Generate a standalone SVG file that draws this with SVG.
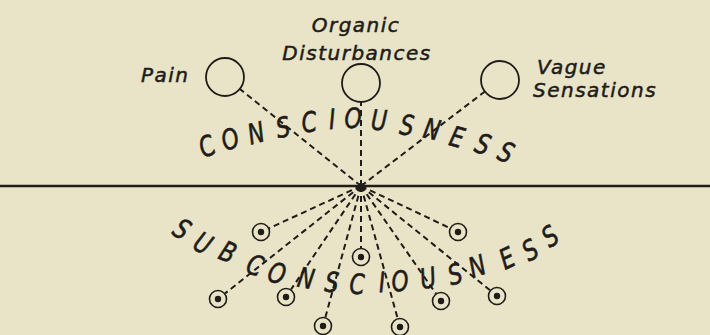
<svg xmlns="http://www.w3.org/2000/svg" width="710" height="335" viewBox="0 0 710 335">
<style>
.lbl{font-family:"DejaVu Sans",sans-serif;font-style:italic;font-size:20px;letter-spacing:1.5px;fill:#201c18;stroke:#201c18;stroke-width:0.5}
.big{font-family:"DejaVu Sans",sans-serif;font-style:italic;font-size:28px;fill:#201c18;stroke:#201c18;stroke-width:0.6;text-anchor:middle}
.ring{fill:none;stroke:#201c18;stroke-width:1.8}
.dash{stroke:#201c18;stroke-width:2;stroke-dasharray:6 4;fill:none}
.bo{fill:none;stroke:#201c18;stroke-width:1.6}
.bi{fill:#201c18}
</style>
<rect width="710" height="335" fill="#e9e3c7"/>
<line x1="0" y1="186" x2="710" y2="186" stroke="#201c18" stroke-width="2.5"/>
<g id="connectors">
<line class="dash" x1="361" y1="186" x2="239.8" y2="88.9"/>
<line class="dash" x1="361" y1="186" x2="361" y2="102"/>
<line class="dash" x1="361" y1="186" x2="484.9" y2="91.5"/>
<line class="dash" x1="361" y1="186" x2="269.2" y2="228.2"/>
<line class="dash" x1="361" y1="186" x2="225.1" y2="293.4"/>
<line class="dash" x1="361" y1="186" x2="291" y2="289.5"/>
<line class="dash" x1="361" y1="186" x2="325.4" y2="317.3"/>
<line class="dash" x1="361" y1="186" x2="361" y2="248"/>
<line class="dash" x1="361" y1="186" x2="397.6" y2="318.3"/>
<line class="dash" x1="361" y1="186" x2="435.9" y2="293.6"/>
<line class="dash" x1="361" y1="186" x2="449.9" y2="228.1"/>
<line class="dash" x1="361" y1="186" x2="490" y2="290.3"/>
<circle cx="361" cy="186" r="3" fill="#201c18"/>
</g>
<g id="pain">
<circle class="ring" cx="225" cy="77" r="19"/>
<text class="lbl" x="141" y="82">Pain</text>
</g>
<g id="organic">
<circle class="ring" cx="361" cy="83" r="19"/>
<text class="lbl" x="356" y="32" text-anchor="middle">Organic</text>
<text class="lbl" x="357" y="60" text-anchor="middle">Disturbances</text>
</g>
<g id="vague">
<circle class="ring" cx="500" cy="80" r="19"/>
<text class="lbl" x="537" y="74">Vague</text>
<text class="lbl" x="533" y="97">Sensations</text>
</g>
<g id="consciousness">
<text class="big" dy="10" transform="translate(207,146) rotate(-22.9) scale(0.78,1)">C</text>
<text class="big" dy="10" transform="translate(230,139) rotate(-19.2) scale(0.78,1)">O</text>
<text class="big" dy="10" transform="translate(256,133) rotate(-15.1) scale(0.78,1)">N</text>
<text class="big" dy="10" transform="translate(283,127) rotate(-10.9) scale(0.78,1)">S</text>
<text class="big" dy="10" transform="translate(309,122) rotate(-7) scale(0.78,1)">C</text>
<text class="big" dy="10" transform="translate(332,119) rotate(-3.5) scale(0.78,1)">I</text>
<text class="big" dy="10" transform="translate(353,118) rotate(-0.3) scale(0.78,1)">O</text>
<text class="big" dy="10" transform="translate(379,120) rotate(3.6) scale(0.78,1)">U</text>
<text class="big" dy="10" transform="translate(407,125) rotate(7.9) scale(0.78,1)">S</text>
<text class="big" dy="10" transform="translate(432,129) rotate(11.7) scale(0.78,1)">N</text>
<text class="big" dy="10" transform="translate(457,137) rotate(15.6) scale(0.78,1)">E</text>
<text class="big" dy="10" transform="translate(483,144) rotate(19.7) scale(0.78,1)">S</text>
<text class="big" dy="10" transform="translate(506,152) rotate(23.4) scale(0.78,1)">S</text>
</g>
<g id="subconsciousness">
<text class="big" dy="10" transform="translate(182,229) rotate(33.1) scale(0.78,1)">S</text>
<text class="big" dy="10" transform="translate(203,243) rotate(28.9) scale(0.78,1)">U</text>
<text class="big" dy="10" transform="translate(228,252) rotate(24.1) scale(0.78,1)">B</text>
<text class="big" dy="10" transform="translate(255,265) rotate(19.2) scale(0.78,1)">C</text>
<text class="big" dy="10" transform="translate(277,273) rotate(15.2) scale(0.78,1)">O</text>
<text class="big" dy="10" transform="translate(306,278) rotate(10.1) scale(0.78,1)">N</text>
<text class="big" dy="10" transform="translate(332,282) rotate(5.7) scale(0.78,1)">S</text>
<text class="big" dy="10" transform="translate(357,284) rotate(1.4) scale(0.78,1)">C</text>
<text class="big" dy="10" transform="translate(382,282) rotate(-2.9) scale(0.78,1)">I</text>
<text class="big" dy="10" transform="translate(400,281) rotate(-6) scale(0.78,1)">O</text>
<text class="big" dy="10" transform="translate(428,278) rotate(-10.8) scale(0.78,1)">U</text>
<text class="big" dy="10" transform="translate(455,274) rotate(-15.6) scale(0.78,1)">S</text>
<text class="big" dy="10" transform="translate(477,266) rotate(-19.5) scale(0.78,1)">N</text>
<text class="big" dy="10" transform="translate(507,258) rotate(-25.1) scale(0.78,1)">E</text>
<text class="big" dy="10" transform="translate(530,250) rotate(-29.5) scale(0.78,1)">S</text>
<text class="big" dy="10" transform="translate(550,236) rotate(-33.5) scale(0.78,1)">S</text>
</g>
<g id="sub1"><circle class="bo" cx="261" cy="232" r="8.5"/><circle class="bi" cx="261" cy="232" r="3.2"/></g>
<g id="sub2"><circle class="bo" cx="218" cy="299" r="8.5"/><circle class="bi" cx="218" cy="299" r="3.2"/></g>
<g id="sub3"><circle class="bo" cx="286" cy="297" r="8.5"/><circle class="bi" cx="286" cy="297" r="3.2"/></g>
<g id="sub4"><circle class="bo" cx="323" cy="326" r="8.5"/><circle class="bi" cx="323" cy="326" r="3.2"/></g>
<g id="sub5"><circle class="bo" cx="361" cy="257" r="8.5"/><circle class="bi" cx="361" cy="257" r="3.2"/></g>
<g id="sub6"><circle class="bo" cx="400" cy="327" r="8.5"/><circle class="bi" cx="400" cy="327" r="3.2"/></g>
<g id="sub7"><circle class="bo" cx="441" cy="301" r="8.5"/><circle class="bi" cx="441" cy="301" r="3.2"/></g>
<g id="sub8"><circle class="bo" cx="458" cy="232" r="8.5"/><circle class="bi" cx="458" cy="232" r="3.2"/></g>
<g id="sub9"><circle class="bo" cx="497" cy="296" r="8.5"/><circle class="bi" cx="497" cy="296" r="3.2"/></g>
</svg>
